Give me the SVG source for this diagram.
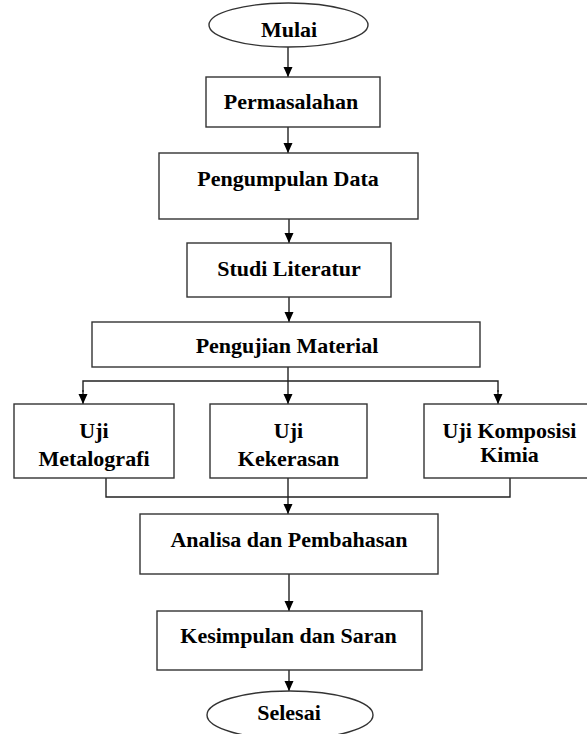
<svg xmlns="http://www.w3.org/2000/svg" width="587" height="734" viewBox="0 0 587 734">
<style>
.box{fill:#fff;stroke:#333;stroke-width:1.4}
.t{font-family:"Liberation Serif","Times New Roman",serif;font-weight:bold;font-size:22px;fill:#000;text-anchor:middle}
.c{fill:none;stroke:#222;stroke-width:1.4}
</style>
<defs>
<marker id="ah" markerWidth="10" markerHeight="10" viewBox="0 0 10 10" refX="10" refY="5" orient="auto" markerUnits="userSpaceOnUse">
<path d="M0,0.5 L10,5 L0,9.5 Z" fill="#000"/>
</marker>
</defs>
<rect width="587" height="734" fill="#fff"/>
<g id="connectors">
<line class="c" x1="288" y1="47" x2="288" y2="77" marker-end="url(#ah)"/>
<line class="c" x1="288" y1="127" x2="288" y2="153" marker-end="url(#ah)"/>
<line class="c" x1="289" y1="219" x2="289" y2="243" marker-end="url(#ah)"/>
<line class="c" x1="289" y1="297" x2="289" y2="322" marker-end="url(#ah)"/>
<line class="c" x1="288" y1="367" x2="288" y2="404" marker-end="url(#ah)"/>
<path class="c" d="M83,392 L83,381 L498,381 L498,392"/>
<line class="c" x1="83" y1="390" x2="83" y2="404" marker-end="url(#ah)"/>
<line class="c" x1="498" y1="390" x2="498" y2="404" marker-end="url(#ah)"/>
<path class="c" d="M106,478 L106,497 L510,497 L510,478"/>
<line class="c" x1="288" y1="478" x2="288" y2="514" marker-end="url(#ah)"/>
<line class="c" x1="289" y1="574" x2="289" y2="611" marker-end="url(#ah)"/>
<line class="c" x1="289" y1="670" x2="289" y2="691" marker-end="url(#ah)"/>
</g>
<g id="mulai">
<ellipse class="box" cx="288.5" cy="25" rx="79.5" ry="22"/>
<text class="t" x="289" y="37">Mulai</text>
</g>
<g id="permasalahan">
<rect class="box" x="206" y="77" width="174" height="50"/>
<text class="t" x="291" y="109">Permasalahan</text>
</g>
<g id="pengumpulan">
<rect class="box" x="159" y="153" width="259" height="66"/>
<text class="t" x="288" y="186">Pengumpulan Data</text>
</g>
<g id="studi">
<rect class="box" x="187" y="243" width="204" height="54"/>
<text class="t" x="289" y="276">Studi Literatur</text>
</g>
<g id="pengujian">
<rect class="box" x="92" y="322" width="388" height="45"/>
<text class="t" x="287" y="353">Pengujian Material</text>
</g>
<g id="metalografi">
<rect class="box" x="14" y="404" width="160" height="74"/>
<text class="t" x="94" y="438">Uji</text>
<text class="t" x="94" y="466">Metalografi</text>
</g>
<g id="kekerasan">
<rect class="box" x="210" y="404" width="157" height="74"/>
<text class="t" x="288.5" y="438">Uji</text>
<text class="t" x="288.5" y="466">Kekerasan</text>
</g>
<g id="komposisi">
<rect class="box" x="424" y="404" width="170" height="74"/>
<text class="t" x="509.5" y="438">Uji Komposisi</text>
<text class="t" x="509.5" y="462">Kimia</text>
</g>
<g id="analisa">
<rect class="box" x="140" y="514" width="298" height="60"/>
<text class="t" x="289" y="547">Analisa dan Pembahasan</text>
</g>
<g id="kesimpulan">
<rect class="box" x="157" y="611" width="265" height="59"/>
<text class="t" x="288.5" y="643">Kesimpulan dan Saran</text>
</g>
<g id="selesai">
<ellipse class="box" cx="290" cy="715" rx="83" ry="24"/>
<text class="t" x="289" y="720">Selesai</text>
</g>
</svg>
